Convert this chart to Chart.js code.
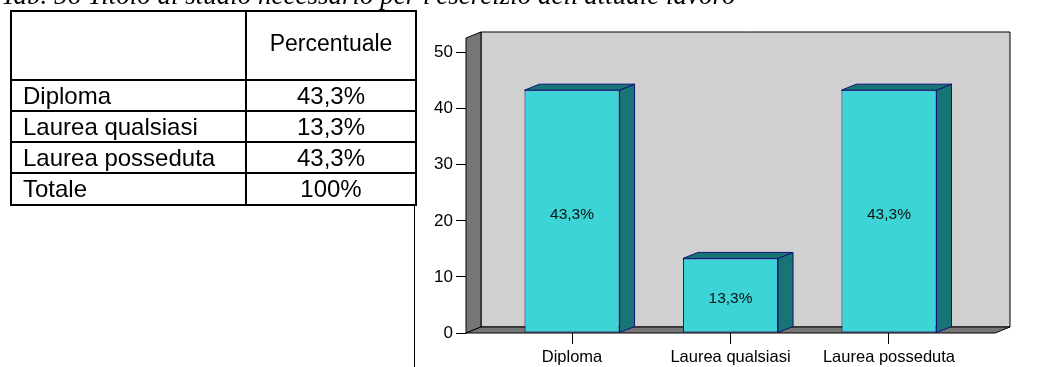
<!DOCTYPE html>
<html>
<head>
<meta charset="utf-8">
<script src="https://cdn.jsdelivr.net/npm/chart.js@4"></script>
<style>
  html, body { margin:0; padding:0; background:#fff; width:1042px; height:367px; overflow:hidden; position:relative; }
  #title { position:absolute; left:1px; top:-18px; font-family:"Liberation Serif", serif; font-style:italic; font-size:27px; line-height:27px; white-space:nowrap; color:#000; z-index:2; }
  #tbl { position:absolute; left:10px; top:10px; border-collapse:collapse; table-layout:fixed; font-family:"Liberation Sans", Arial, sans-serif; font-size:24px; color:#000; z-index:2; }
  #tbl td { border:2px solid #000; padding:0; line-height:24px; }
  #tbl tr.head td { font-size:23px; padding-bottom:5px; }
  #tbl td.lab { padding-left:11px; text-align:left; }
  #tbl td.val { text-align:center; }
  #vline { position:absolute; left:414px; top:205px; width:1px; height:162px; background:#000; z-index:2; }
  #c { position:absolute; left:0; top:0; z-index:1; }
</style>
</head>
<body>
<div id="title"></div>
<table id="tbl"><colgroup><col style="width:235px"><col style="width:170px"></colgroup><tbody></tbody></table>
<div id="vline"></div>
<canvas id="c" width="1042" height="367"></canvas>
<script>
const title = "Tab. 56 Titolo di studio necessario per l'esercizio dell'attuale lavoro";
const tableHeader = "Percentuale";
const categories = ["Diploma", "Laurea qualsiasi", "Laurea posseduta"];
const values = [43.3, 13.3, 43.3];
const totalLabel = "Totale";
const totalValue = "100%";
const yTicks = [0, 10, 20, 30, 40, 50];

const fmt = v => v.toFixed(1).replace('.', ',') + '%';

document.getElementById('title').textContent = title;
const tb = document.querySelector('#tbl tbody');
function addRow(a, b, h, cls) {
  const tr = document.createElement('tr');
  tr.style.height = h + 'px';
  if (cls) tr.className = cls;
  const c1 = document.createElement('td'); c1.className = 'lab'; c1.textContent = a;
  const c2 = document.createElement('td'); c2.className = 'val'; c2.textContent = b;
  tr.appendChild(c1); tr.appendChild(c2); tb.appendChild(tr);
}
addRow('', tableHeader, 69, 'head');
categories.forEach((c, i) => addRow(c, fmt(values[i]), 31));
addRow(totalLabel, totalValue, 32);

const DX = 15, DY = 6;
const FONT = '"Liberation Sans", Arial, sans-serif';

const box3d = {
  id: 'box3d',
  beforeDatasetsDraw(chart) {
    const { ctx, chartArea: a } = chart;
    ctx.save();
    ctx.lineWidth = 1;
    ctx.strokeStyle = '#000';
    ctx.fillStyle = '#d0d0d0';
    ctx.beginPath();
    ctx.rect(a.left + DX, a.top - DY, a.right - a.left, a.bottom - a.top);
    ctx.fill(); ctx.stroke();
    ctx.fillStyle = '#767676';
    ctx.beginPath();
    ctx.moveTo(a.left, a.top); ctx.lineTo(a.left + DX, a.top - DY);
    ctx.lineTo(a.left + DX, a.bottom - DY); ctx.lineTo(a.left, a.bottom);
    ctx.closePath(); ctx.fill(); ctx.stroke();
    ctx.beginPath();
    ctx.moveTo(a.left, a.bottom); ctx.lineTo(a.left + DX, a.bottom - DY);
    ctx.lineTo(a.right + DX, a.bottom - DY); ctx.lineTo(a.right, a.bottom);
    ctx.closePath(); ctx.fill(); ctx.stroke();
    ctx.restore();
  },
  afterDatasetsDraw(chart) {
    const { ctx } = chart;
    const meta = chart.getDatasetMeta(0);
    ctx.save();
    ctx.lineWidth = 1;
    ctx.strokeStyle = '#10107a';
    meta.data.forEach((bar, i) => {
      const p = bar.getProps(['x', 'y', 'base', 'width'], true);
      const l = p.x - p.width / 2, r = p.x + p.width / 2;
      ctx.fillStyle = '#177575';
      ctx.beginPath();
      ctx.moveTo(r, p.y); ctx.lineTo(r + DX, p.y - DY);
      ctx.lineTo(r + DX, p.base - DY); ctx.lineTo(r, p.base);
      ctx.closePath(); ctx.fill(); ctx.stroke();
      ctx.beginPath();
      ctx.moveTo(l, p.y); ctx.lineTo(l + DX, p.y - DY);
      ctx.lineTo(r + DX, p.y - DY); ctx.lineTo(r, p.y);
      ctx.closePath(); ctx.fill(); ctx.stroke();
      ctx.fillStyle = '#111';
      ctx.font = '15.5px ' + FONT;
      ctx.textAlign = 'center';
      ctx.textBaseline = 'middle';
      ctx.fillText(fmt(values[i]), p.x, (p.y + p.base) / 2 + 3);
    });
    ctx.restore();
  }
};

new Chart(document.getElementById('c'), {
  type: 'bar',
  data: {
    datasets: [{
      data: categories.map((c, i) => ({ x: i, y: values[i] })),
      backgroundColor: '#3cd4d6',
      borderColor: '#10107a',
      borderWidth: 1,
      borderSkipped: false,
      barPercentage: 0.6,
      categoryPercentage: 1.0
    }]
  },
  options: {
    responsive: false,
    animation: false,
    layout: { padding: { left: 416, right: 47, top: 38, bottom: 0 } },
    plugins: { legend: { display: false }, tooltip: { enabled: false } },
    scales: {
      x: {
        type: 'linear', min: -0.669, max: 2.669, offset: false,
        afterBuildTicks: s => { s.ticks = categories.map((c, i) => ({ value: i })); },
        afterFit: s => { s.height = 34; },
        grid: { offset: false, drawOnChartArea: false, drawTicks: true, tickLength: 11, color: '#000', lineWidth: 1 },
        border: { display: false },
        ticks: { callback: v => categories[v], font: { family: FONT, size: 16.5 }, color: '#000', padding: 4, maxRotation: 0, autoSkip: false }
      },
      y: {
        min: 0, max: 52.6,
        afterBuildTicks: s => { s.ticks = yTicks.map(v => ({ value: v })); },
        afterFit: s => { s.width = 50; },
        grid: { drawOnChartArea: false, drawTicks: true, tickLength: 10, color: '#000', lineWidth: 1 },
        border: { display: false },
        ticks: { font: { family: FONT, size: 17 }, color: '#000', padding: 3 }
      }
    }
  },
  plugins: [box3d]
});
</script>
</body>
</html>
